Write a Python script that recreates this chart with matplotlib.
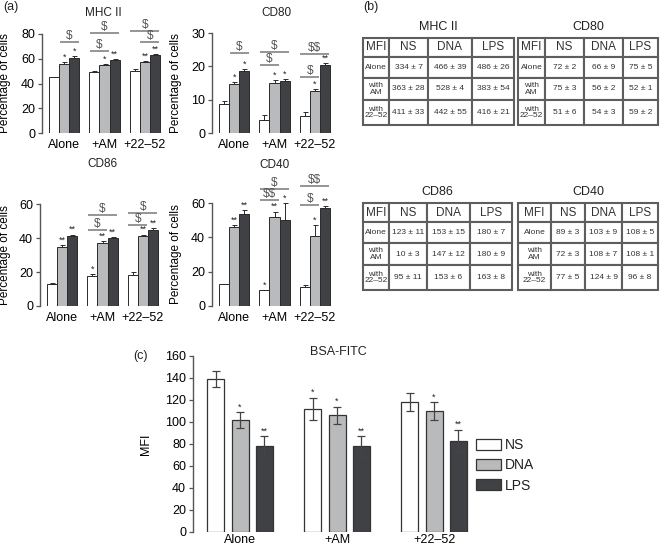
import matplotlib
matplotlib.use("Agg")
import matplotlib.pyplot as plt
import numpy as np

plt.rcParams['font.family'] = ['Liberation Sans', 'DejaVu Sans']
plt.rcParams['text.color'] = '#222222'
plt.rcParams['text.parse_math'] = False

W, H = 660, 548

groups = ["Alone", "+AM", "+22\u201352"]
series = ["NS", "DNA", "LPS"]
colors = ["white", "#b9babc", "#404145"]

# (a) percentage of positive cells: one list per series (NS, DNA, LPS), one value per group
mhc_vals = [[45, 49.5, 50.5], [56, 55, 57], [61, 59, 63]]
mhc_errs = [[0.5, 1.0, 1.5], [1.5, 1.0, 1.0], [1.5, 1.0, 1.0]]
mhc_stars = [["", "*", "*"], ["", "*", "**"], ["", "**", "**"]]
mhc_sig = [(0, 1, 2, 73.5, "$"), (1, 0, 2, 81, "$"), (1, 0, 1, 66, "$"),
           (2, 0, 2, 82.5, "$"), (2, 1, 2, 73.5, "$")]

cd80_vals = [[8.6, 3.8, 5.2], [14.8, 15.0, 12.5], [18.5, 15.5, 20.5]]
cd80_errs = [[1.0, 1.6, 1.0], [0.5, 1.0, 0.6], [0.8, 0.7, 0.5]]
cd80_stars = [["", "*", "*"], ["", "*", "*"], ["", "*", "**"]]
cd80_sig = [(0, 1, 2, 24, "$"), (1, 0, 2, 24.3, "$"), (1, 0, 1, 20.3, "$"),
            (2, 0, 2, 23.6, "$$"), (2, 0, 1, 16.8, "$")]

cd86_vals = [[13, 17.5, 18], [35, 37, 41], [41, 40, 45]]
cd86_errs = [[0.7, 1.3, 1.8], [0.6, 1.0, 1.0], [1.0, 0.5, 0.6]]
cd86_stars = [["", "**", "**"], ["*", "**", "**"], ["", "**", "**"]]
cd86_sig = [(1, 0, 2, 53.5, "$"), (1, 0, 1, 45, "$"),
            (2, 0, 2, 55, "$"), (2, 0, 1, 47.5, "$")]

cd40_vals = [[13, 9.5, 11], [46, 52, 41], [53.5, 50, 57]]
cd40_errs = [[0, 0, 1.2], [1.0, 3.0, 6.0], [2.5, 10, 1.0]]
cd40_stars = [["", "**", "**"], ["*", "**", "*"], ["", "*", "**"]]
cd40_sig = [(1, 0, 2, 68, "$"), (1, 0, 1, 61.8, "$$"),
            (2, 0, 2, 70, "$$"), (2, 0, 1, 59, "$")]

# (b) MFI tables
tab_header = ["MFI", "NS", "DNA", "LPS"]
row_names = ["Alone", "with\nAM", "with\n22\u201352"]
mhc_tab = [["334 ± 7", "466 ± 39", "486 ± 26"],
           ["363 ± 28", "528 ± 4", "383 ± 54"],
           ["411 ± 33", "442 ± 55", "416 ± 21"]]
cd80_tab = [["72 ± 2", "66 ± 9", "75 ± 5"],
            ["75 ± 3", "56 ± 2", "52 ± 1"],
            ["51 ± 6", "54 ± 3", "59 ± 2"]]
cd86_tab = [["123 ± 11", "153 ± 15", "180 ± 7"],
            ["10 ± 3", "147 ± 12", "180 ± 9"],
            ["95 ± 11", "153 ± 6", "163 ± 8"]]
cd40_tab = [["89 ± 3", "103 ± 9", "108 ± 5"],
            ["72 ± 3", "108 ± 7", "108 ± 1"],
            ["77 ± 5", "124 ± 9", "96 ± 8"]]

# (c) BSA-FITC uptake
bsa_vals = [[139, 112, 118], [102, 106, 110], [78, 78, 83]]
bsa_errs = [[7, 10, 8], [7, 8, 8], [9, 9, 10]]
bsa_stars = [["", "*", "**"], ["*", "*", "**"], ["", "*", "**"]]


def px_rect(l, t, r, b):
    return [l / W, 1 - b / H, (r - l) / W, (b - t) / H]


def style_axis(ax, xpad=4):
    for side in ['top', 'right', 'bottom']:
        ax.spines[side].set_visible(False)
    ax.spines['left'].set_color('#555555')
    ax.spines['left'].set_linewidth(1.0)
    ax.tick_params(axis='y', direction='out', length=3, width=0.9, color='#555555',
                   labelsize=9, pad=2)
    ax.tick_params(axis='x', length=0, labelsize=9, pad=xpad)


fig = plt.figure(figsize=(W / 100, H / 100), dpi=100)


def bar_panel(rect, title, title_xy, vals, errs, stars, sig, ymax, step, ylab_x):
    ax = fig.add_axes(px_rect(*rect))
    for s in range(3):
        x = np.arange(3) * 4 + s
        ax.bar(x, vals[s], width=1.0, color=colors[s], edgecolor='#2a2a2a',
               linewidth=0.7, zorder=2)
        ax.errorbar(x, vals[s], yerr=[np.zeros(3), errs[s]], fmt='none',
                    ecolor='#2a2a2a', elinewidth=0.7, capsize=1.8, capthick=0.7, zorder=3)
        for g in range(3):
            if stars[g][s]:
                ax.annotate(stars[g][s], (x[g], vals[s][g] + errs[s][g]),
                            xytext=(0, 0.3), textcoords='offset points',
                            ha='center', va='bottom', fontsize=6.5, annotation_clip=False)
    for g, i, j, y, lab in sig:
        x0, x1 = 4 * g + i - 0.45, 4 * g + j + 0.45
        ax.plot([x0, x1], [y, y], color='#8c8c8c', lw=1.3, clip_on=False,
                solid_capstyle='butt')
        ax.text((x0 + x1) / 2, y, lab, ha='center', va='bottom', fontsize=8.5,
                color='#555555', clip_on=False)
    ax.set_xlim(-1.2, 10.7)
    ax.set_ylim(0, ymax)
    ax.set_yticks(np.arange(0, ymax + 1, step))
    ax.set_xticks(np.arange(3) * 4 + 1)
    ax.set_xticklabels(groups)
    style_axis(ax)
    ax.set_ylabel("Percentage of cells", fontsize=8.5)
    ax.yaxis.set_label_coords(ylab_x, 0.5)
    fig.text(title_xy[0] / W, 1 - title_xy[1] / H, title, ha='center', va='center',
             fontsize=8.5)
    return ax


bar_panel((42, 34, 162, 133), "MHC II", (103, 13), mhc_vals, mhc_errs, mhc_stars,
          mhc_sig, 80, 20, -0.255)
bar_panel((212, 33, 332, 133), "CD80", (276, 13), cd80_vals, cd80_errs, cd80_stars,
          cd80_sig, 30, 10, -0.25)
bar_panel((40, 204, 160, 306), "CD86", (102, 164), cd86_vals, cd86_errs, cd86_stars,
          cd86_sig, 60, 20, -0.24)
bar_panel((212, 203, 332, 306), "CD40", (275, 165), cd40_vals, cd40_errs, cd40_stars,
          cd40_sig, 60, 20, -0.25)


def mfi_table(rect, title, cells, widths):
    ax = fig.add_axes(px_rect(*rect))
    ax.axis('off')
    text = [[row_names[r]] + cells[r] for r in range(3)]
    tab = ax.table(cellText=text, colLabels=tab_header, cellLoc='center',
                   colWidths=list(np.array(widths) / sum(widths)), bbox=[0, 0, 1, 1])
    tab.auto_set_font_size(False)
    row_h = [19, 21, 22, 25]
    for (r, c), cell in tab.get_celld().items():
        cell.set_edgecolor('#5e5e5e')
        cell.set_linewidth(1.5)
        cell.set_height(row_h[r])
        cell.get_text().set_color('#333333')
        cell.get_text().set_fontsize(8.5 if r == 0 else 6)
        if r > 0 and c == 0:
            cell.get_text().set_linespacing(0.95)
    cx = (rect[0] + rect[2]) / 2
    fig.text(cx / W, 1 - (rect[1] - 11) / H, title, ha='center', va='center', fontsize=9)


mfi_table((363, 38, 514, 125), "MHC II", mhc_tab, [26, 39, 44, 42])
mfi_table((518, 38, 658, 125), "CD80", cd80_tab, [27, 39, 39, 35])
mfi_table((363, 203, 512, 290), "CD86", cd86_tab, [26, 38, 43, 42])
mfi_table((518, 203, 658, 290), "CD40", cd40_tab, [33, 34, 37, 36])

# (c)
axc = fig.add_axes(px_rect(193, 356, 475, 532))
handles = []
for s in range(3):
    x = np.arange(3) * 4 - 1 + s
    b = axc.bar(x, bsa_vals[s], width=0.7, color=colors[s], edgecolor='#333333',
                linewidth=0.9, zorder=2)
    handles.append(b)
    axc.errorbar(x, bsa_vals[s], yerr=bsa_errs[s], fmt='none', ecolor='#444444',
                 elinewidth=0.9, capsize=3, capthick=0.9, zorder=3)
    for g in range(3):
        if bsa_stars[g][s]:
            axc.annotate(bsa_stars[g][s], (x[g], bsa_vals[s][g] + bsa_errs[s][g]),
                         xytext=(0, 0.5), textcoords='offset points',
                         ha='center', va='bottom', fontsize=6.5)
axc.set_xlim(-1.94, 9.69)
axc.set_ylim(0, 160)
axc.set_yticks(np.arange(0, 161, 20))
axc.set_xticks(np.arange(3) * 4)
axc.set_xticklabels(groups)
style_axis(axc, xpad=1.5)
axc.set_ylabel("MFI", fontsize=9)
axc.yaxis.set_label_coords(-0.145, 0.5)
axc.text(0.515, 1.02, "BSA-FITC", transform=axc.transAxes, ha='center', va='center',
         fontsize=9)
axc.legend(handles, series, loc='upper left', bbox_to_anchor=(476 / W, 1 - 438 / H),
           bbox_transform=fig.transFigure, frameon=False, fontsize=10,
           handlelength=1.8, handleheight=0.85, handletextpad=0.25,
           labelspacing=0.45, borderpad=0, borderaxespad=0)

fig.text(3 / W, 1 - 7 / H, "(a)", ha='left', va='center', fontsize=9)
fig.text(363 / W, 1 - 7 / H, "(b)", ha='left', va='center', fontsize=9)
fig.text(133 / W, 1 - 356 / H, "(c)", ha='left', va='center', fontsize=9)

fig.savefig("out.png", dpi=100)
